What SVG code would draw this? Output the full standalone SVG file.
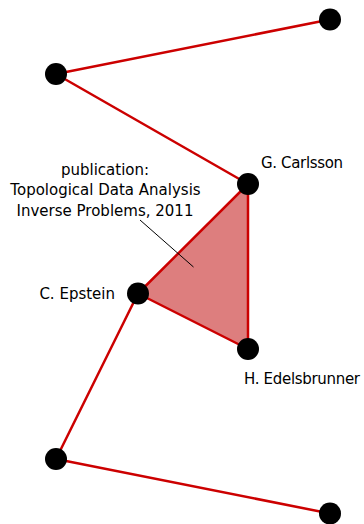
<svg xmlns="http://www.w3.org/2000/svg" width="364" height="524" viewBox="0 0 364 524">
<style>
.edge{stroke:#cc0000;stroke-width:2.5;fill:none;stroke-linecap:round}
.node{fill:#000}
.lbl{font-family:"DejaVu Sans","Liberation Sans",sans-serif;font-size:15px;fill:#000}
</style>
<rect width="364" height="524" fill="#fff"/>
<g id="connectors">
<polygon points="248,184 138,293.5 248,349" fill="#dd7e7e" stroke="none"/>
<line class="edge" x1="330" y1="19.5" x2="56" y2="74"/>
<line class="edge" x1="56" y1="74" x2="248" y2="184"/>
<line class="edge" x1="248" y1="184" x2="138" y2="293.5"/>
<line class="edge" x1="248" y1="184" x2="248" y2="349"/>
<line class="edge" x1="138" y1="293.5" x2="248" y2="349"/>
<line class="edge" x1="138" y1="293.5" x2="56" y2="459"/>
<line class="edge" x1="56" y1="459" x2="330" y2="513.5"/>
<line x1="140" y1="220" x2="193.5" y2="267" stroke="#000" stroke-width="1"/>
</g>
<g id="n1"><circle class="node" cx="330" cy="19.5" r="11"/></g>
<g id="n2"><circle class="node" cx="56" cy="74" r="11"/></g>
<g id="carlsson"><circle class="node" cx="248" cy="184" r="11"/><text class="lbl" x="261" y="168" textLength="82">G. Carlsson</text></g>
<g id="epstein"><circle class="node" cx="138" cy="293.5" r="11"/><text class="lbl" x="115" y="299" text-anchor="end">C. Epstein</text></g>
<g id="edelsbrunner"><circle class="node" cx="248" cy="349" r="11"/><text class="lbl" x="244" y="384" textLength="116">H. Edelsbrunner</text></g>
<g id="n6"><circle class="node" cx="56" cy="459" r="11"/></g>
<g id="n7"><circle class="node" cx="330" cy="513.5" r="11"/></g>
<g id="publication">
<text class="lbl" x="105" y="175" text-anchor="middle">publication:</text>
<text class="lbl" x="105.5" y="195" text-anchor="middle">Topological Data Analysis</text>
<text class="lbl" x="105" y="216" text-anchor="middle">Inverse Problems, 2011</text>
</g>
</svg>
